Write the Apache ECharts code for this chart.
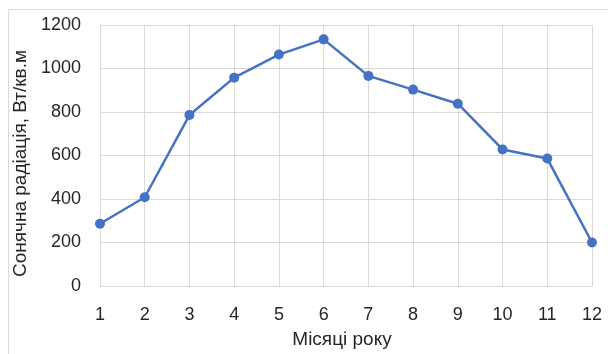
<!DOCTYPE html>
<html>
<head>
<meta charset="utf-8">
<script src="https://cdn.jsdelivr.net/npm/echarts@6/dist/echarts.min.js"></script>
<style>html,body{margin:0;padding:0;background:#fff;}#c{width:608px;height:354px;}</style>
</head>
<body>
<div id="c"></div>
<script>
const months = [1,2,3,4,5,6,7,8,9,10,11,12];
const radiation = [286,408,786,958,1064,1134,966,903,838,628,586,200];
const yTicks = [0,200,400,600,800,1000,1200];
const xTitle = 'Місяці року';
const yTitle = 'Сонячна радіація, Вт/кв.м';

const chart = echarts.init(document.getElementById('c'), null, {renderer:'canvas'});
const font = 'Liberation Sans, Arial, sans-serif';
chart.setOption({
  animation:false,
  backgroundColor:'#fff',
  graphic:[{type:'rect',shape:{x:8.5,y:9.5,width:640,height:400},style:{fill:'none',stroke:'#d9d9d9',lineWidth:1},z:-1}],
  grid:{left:100,right:16,top:25,bottom:66,containLabel:false},
  xAxis:{type:'value',min:1,max:12,interval:1,
    name:xTitle,nameLocation:'middle',nameGap:44,
    nameTextStyle:{fontFamily:font,fontSize:19,color:'#262626',padding:[0,8,0,0]},
    axisLine:{show:true,lineStyle:{color:'#d9d9d9',width:1}},
    axisTick:{show:false},
    axisLabel:{fontFamily:font,fontSize:18,color:'#262626',margin:20},
    splitLine:{show:true,lineStyle:{color:'#d9d9d9',width:1}}
  },
  yAxis:{type:'value',min:0,max:1200,interval:200,
    name:yTitle,nameLocation:'middle',nameGap:56,
    nameTextStyle:{fontFamily:font,fontSize:19,color:'#262626',padding:[0,16,0,0]},
    axisLine:{show:true,lineStyle:{color:'#d9d9d9',width:1}},
    axisTick:{show:false},
    axisLabel:{fontFamily:font,fontSize:18,color:'#262626',margin:19,
      formatter:v=>yTicks.includes(v)?String(v):''},
    splitLine:{show:true,lineStyle:{color:'#d9d9d9',width:1}}
  },
  series:[{type:'line',data:months.map((m,i)=>[m,radiation[i]]),
    lineStyle:{color:'#4472C4',width:2.5},
    itemStyle:{color:'#4472C4'},
    symbol:'circle',symbolSize:10,showSymbol:true}]
});
</script>
</body>
</html>
